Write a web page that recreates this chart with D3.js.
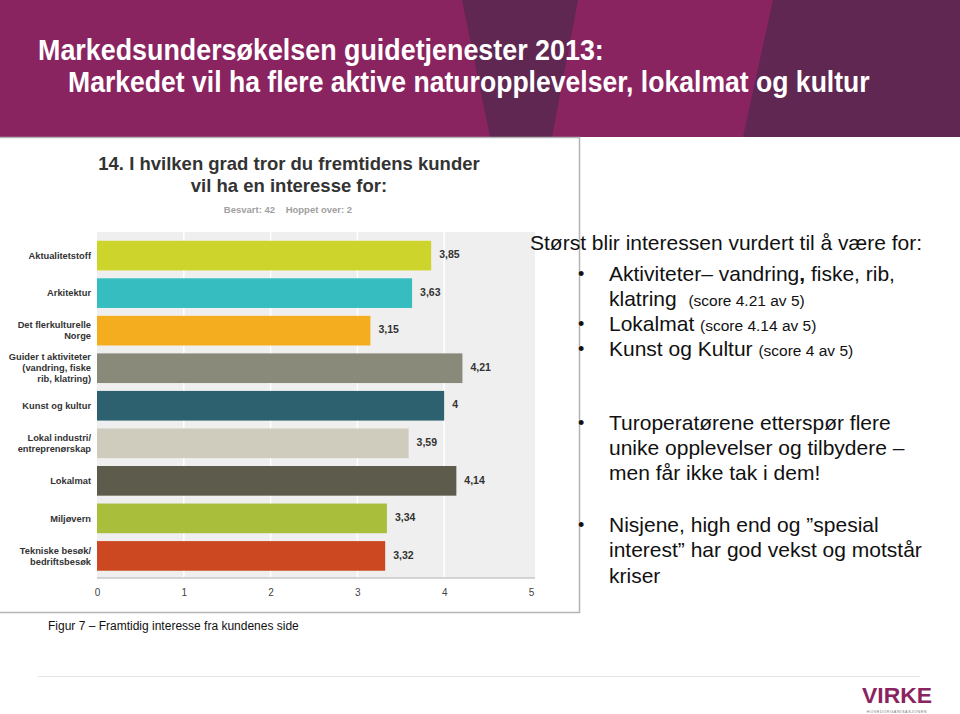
<!DOCTYPE html>
<html>
<head>
<meta charset="utf-8">
<script src="https://cdn.jsdelivr.net/npm/d3@7"></script>
<style>
  body { margin: 0; background: #fff; }
  svg { display: block; font-family: "Liberation Sans", Arial, sans-serif; }
</style>
</head>
<body>
<div id="chart"></div>
<script>
// data
var categories = [
    ['Aktualitetstoff'],
    ['Arkitektur'],
    ['Det flerkulturelle', 'Norge'],
    ['Guider t aktiviteter', '(vandring, fiske', 'rib, klatring)'],
    ['Kunst og kultur'],
    ['Lokal industri/', 'entreprenørskap'],
    ['Lokalmat'],
    ['Miljøvern'],
    ['Tekniske besøk/', 'bedriftsbesøk']
];
var values = [3.85, 3.63, 3.15, 4.21, 4, 3.59, 4.14, 3.34, 3.32];
var valueLabels = ['3,85', '3,63', '3,15', '4,21', '4', '3,59', '4,14', '3,34', '3,32'];
var barColors = ['#cdd42b', '#35bdc0', '#f5ad20', '#8a8a7b', '#2e6170', '#cfccbd', '#5d5b4b', '#a9be3a', '#cb4820'];
var xTicks = [0, 1, 2, 3, 4, 5];

var width = 960;
var height = 714;

var svg = d3.select('#chart').append('svg')
    .attr('width', width)
    .attr('height', height);

// header band with darker stripes
svg.append('rect')
    .attr('x', 0).attr('y', 0)
    .attr('width', width).attr('height', 137)
    .attr('fill', '#8a2460');
svg.append('path')
    .attr('d', 'M462,0 L578,0 L552,137 L490,137 Z')
    .attr('fill', '#5f2751');
svg.append('path')
    .attr('d', 'M773,0 L960,0 L960,137 L743,137 Z')
    .attr('fill', '#5f2751');

// condensed look: squeeze a bold face horizontally to the widths in the picture
function narrowTitle(str, tx, ty, w) {
    var g = svg.append('g');
    var t = g.append('text')
        .attr('x', 0).attr('y', 0)
        .attr('fill', '#fff')
        .style('font-weight', 'bold')
        .style('font-size', '30px')
        .text(str);
    var sx = w / t.node().getComputedTextLength();
    g.attr('transform', 'translate(' + tx + ',' + ty + ') scale(' + sx + ',1)');
}
narrowTitle('Markedsundersøkelsen guidetjenester 2013:', 38, 60, 566);
narrowTitle('Markedet vil ha flere aktive naturopplevelser, lokalmat og kultur', 68, 92, 802);

// frame of the pasted chart
svg.append('path')
    .attr('d', 'M0,137.5 L579.5,137.5 L579.5,612.5 L0,612.5')
    .attr('fill', 'none')
    .attr('stroke', '#b4b4b4')
    .attr('stroke-width', 1.5);

// chart titles
svg.append('text')
    .attr('x', 289).attr('y', 170)
    .attr('text-anchor', 'middle')
    .attr('fill', '#333')
    .style('font-weight', 'bold')
    .style('font-size', '18.5px')
    .text('14. I hvilken grad tror du fremtidens kunder');
svg.append('text')
    .attr('x', 289).attr('y', 192)
    .attr('text-anchor', 'middle')
    .attr('fill', '#333')
    .style('font-weight', 'bold')
    .style('font-size', '18.5px')
    .text('vil ha en interesse for:');
svg.append('text')
    .attr('x', 288).attr('y', 213)
    .attr('text-anchor', 'middle')
    .attr('fill', '#a0a0a0')
    .style('font-weight', 'bold')
    .style('font-size', '9.5px')
    .attr('xml:space', 'preserve')
    .text('Besvart: 42    Hoppet over: 2');

var x = d3.scaleLinear()
    .domain([0, 5])
    .range([97, 531]);

var y = d3.scaleBand()
    .domain(d3.range(values.length))
    .range([237, 574.5])
    .paddingInner(0.21)
    .paddingOuter(0.1);

// plot background
svg.append('rect')
    .attr('x', x(0)).attr('y', 232)
    .attr('width', x(5) + 4 - x(0)).attr('height', 578 - 232)
    .attr('fill', '#efefef');

// white gridlines
svg.append('g')
    .selectAll('line')
    .data(xTicks.slice(1, 5))
    .enter().append('line')
    .attr('x1', function (d) { return x(d); })
    .attr('x2', function (d) { return x(d); })
    .attr('y1', 232).attr('y2', 578)
    .attr('stroke', '#fff')
    .attr('stroke-width', 1.5);

// bars
svg.append('g')
    .selectAll('rect')
    .data(values)
    .enter().append('rect')
    .attr('x', x(0))
    .attr('y', function (d, i) { return y(i); })
    .attr('width', function (d) { return x(d) - x(0); })
    .attr('height', y.bandwidth())
    .attr('fill', function (d, i) { return barColors[i]; });

// value labels
svg.append('g')
    .selectAll('text')
    .data(values)
    .enter().append('text')
    .attr('x', function (d) { return x(d) + 8; })
    .attr('y', function (d, i) { return y(i) + y.bandwidth() / 2 - 1; })
    .attr('dy', '0.35em')
    .attr('fill', '#333')
    .style('font-weight', 'bold')
    .style('font-size', '10.5px')
    .text(function (d, i) { return valueLabels[i]; });

// category labels
var catG = svg.append('g')
    .selectAll('text')
    .data(categories)
    .enter().append('text')
    .attr('text-anchor', 'end')
    .attr('fill', '#333')
    .style('font-weight', 'bold')
    .style('font-size', '9.3px');
catG.each(function (lines, i) {
    var t = d3.select(this);
    var cy = y(i) + y.bandwidth() / 2;
    var lh = 11;
    lines.forEach(function (s, j) {
        t.append('tspan')
            .attr('x', 91)
            .attr('y', cy - (lines.length - 1) * lh / 2 + j * lh)
            .attr('dy', '0.35em')
            .text(s);
    });
});

// bottom axis
var xAxis = d3.axisBottom(x)
    .tickValues(xTicks)
    .tickFormat(d3.format('d'))
    .tickSize(0)
    .tickPadding(11);
var axG = svg.append('g')
    .attr('transform', 'translate(0, 578)')
    .call(xAxis);
axG.select('.domain').remove();
axG.append('line')
    .attr('x1', x(0)).attr('x2', x(5) + 4)
    .attr('y1', 0).attr('y2', 0)
    .attr('stroke', '#c8c8c8')
    .attr('stroke-width', 1.5);
axG.selectAll('.tick text')
    .attr('fill', '#444')
    .style('font-family', '"Liberation Sans", Arial, sans-serif')
    .style('font-size', '10px');

// caption
svg.append('text')
    .attr('x', 48).attr('y', 630)
    .attr('fill', '#111')
    .style('font-size', '12px')
    .text('Figur 7 – Framtidig interesse fra kundenes side');

// right-hand text
svg.append('text')
    .attr('x', 530).attr('y', 250)
    .attr('fill', '#111')
    .style('font-size', '21px')
    .text('Størst blir interessen vurdert til å være for:');

var big = 21;
var small = 15.5;
var bulletLines = [
    { y: 281, bullet: true, parts: [['Aktiviteter– vandring', big], [', ', big, 'bold'], ['fiske, rib,', big]] },
    { y: 306, parts: [['klatring  ', big], ['(score 4.21 av 5)', small]] },
    { y: 331, bullet: true, parts: [['Lokalmat ', big], ['(score 4.14 av 5)', small]] },
    { y: 356, bullet: true, parts: [['Kunst og Kultur ', big], ['(score 4 av 5)', small]] },
    { y: 430, bullet: true, parts: [['Turoperatørene etterspør flere', big]] },
    { y: 455, parts: [['unike opplevelser og tilbydere –', big]] },
    { y: 480, parts: [['men får ikke tak i dem!', big]] },
    { y: 532, bullet: true, parts: [['Nisjene, high end og ”spesial', big]] },
    { y: 557, parts: [['interest” har god vekst og motstår', big]] },
    { y: 583, parts: [['kriser', big]] }
];

bulletLines.forEach(function (l) {
    if (l.bullet) {
        svg.append('text')
            .attr('x', 578).attr('y', l.y - 1)
            .attr('fill', '#111')
            .style('font-size', '18px')
            .text('•');
    }
    var t = svg.append('text')
        .attr('x', 609).attr('y', l.y)
        .attr('fill', '#111')
        .attr('xml:space', 'preserve');
    l.parts.forEach(function (p) {
        t.append('tspan')
            .style('font-size', p[1] + 'px')
            .style('font-weight', p[2] || 'normal')
            .text(p[0]);
    });
});

// footer line and logo
svg.append('line')
    .attr('x1', 38).attr('x2', 920)
    .attr('y1', 676.5).attr('y2', 676.5)
    .attr('stroke', '#e4e4e4')
    .attr('stroke-width', 1);
svg.append('text')
    .attr('x', 897).attr('y', 703)
    .attr('text-anchor', 'middle')
    .attr('fill', '#8a2460')
    .attr('textLength', 70)
    .attr('lengthAdjust', 'spacingAndGlyphs')
    .style('font-weight', 'bold')
    .style('font-size', '22px')
    .text('VIRKE');
svg.append('text')
    .attr('x', 897).attr('y', 713)
    .attr('text-anchor', 'middle')
    .attr('fill', '#777')
    .style('font-size', '3.8px')
    .style('letter-spacing', '0.6px')
    .text('HOVEDORGANISASJONEN');
</script>
</body>
</html>
